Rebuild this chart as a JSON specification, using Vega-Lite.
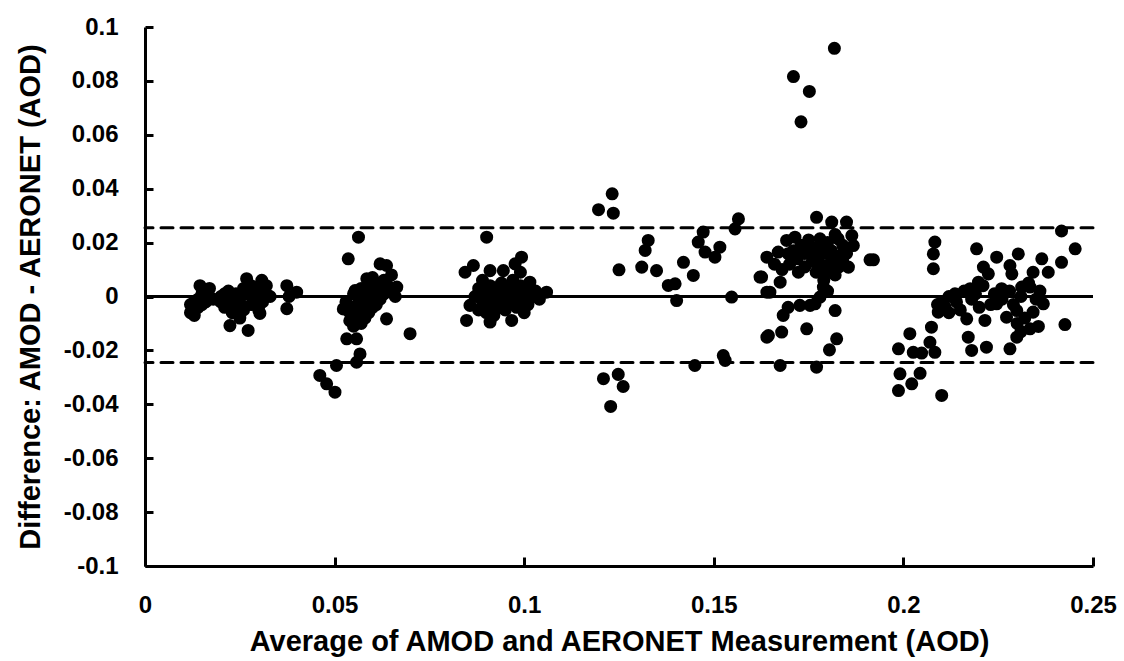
{
  "$schema": "https://vega.github.io/schema/vega-lite/v6.json",
  "width": 948,
  "height": 539,
  "autosize": {"type": "none"},
  "padding": {"left": 145, "top": 27, "right": 31, "bottom": 95},
  "background": "white",
  "config": {
    "view": {"stroke": null},
    "font": "Liberation Sans",
    "axis": {
      "domainColor": "black",
      "domainWidth": 3,
      "ticks": false,
      "grid": true,
      "gridColor": "black",
      "gridWidth": 3,
      "gridOpacity": 1,
      "labelFont": "Liberation Sans",
      "labelFontWeight": "bold",
      "labelFontSize": 24,
      "labelColor": "black",
      "titleFont": "Liberation Sans",
      "titleFontWeight": "bold",
      "titleFontSize": 29,
      "titleColor": "black"
    }
  },
  "datasets": {
    "pts": [
      {"avg":0.012,"diff":-0.003},{"avg":0.012,"diff":-0.006},{"avg":0.0125,"diff":-0.005},{"avg":0.013,"diff":-0.002},{"avg":0.013,"diff":-0.007},{"avg":0.014,"diff":-0.004},{"avg":0.014,"diff":-0.001},{"avg":0.015,"diff":0.001},{"avg":0.015,"diff":-0.003},{"avg":0.0145,"diff":0.004},{"avg":0.016,"diff":0.002},{"avg":0.016,"diff":-0.002},{"avg":0.017,"diff":0.0},{"avg":0.017,"diff":0.003},{"avg":0.018,"diff":-0.001},{"avg":0.020,"diff":-0.002},{"avg":0.020,"diff":0.0},{"avg":0.021,"diff":-0.004},{"avg":0.021,"diff":0.001},{"avg":0.022,"diff":0.002},{"avg":0.022,"diff":-0.003},{"avg":0.0224,"diff":-0.0108},{"avg":0.023,"diff":-0.006},{"avg":0.023,"diff":0.0},{"avg":0.024,"diff":0.001},{"avg":0.024,"diff":-0.004},{"avg":0.025,"diff":-0.008},{"avg":0.025,"diff":-0.002},{"avg":0.026,"diff":0.003},{"avg":0.026,"diff":-0.005},{"avg":0.0268,"diff":0.0066},{"avg":0.027,"diff":0.001},{"avg":0.0272,"diff":-0.0126},{"avg":0.028,"diff":-0.003},{"avg":0.028,"diff":0.004},{"avg":0.029,"diff":-0.001},{"avg":0.029,"diff":0.002},{"avg":0.030,"diff":-0.005},{"avg":0.0303,"diff":-0.0063},{"avg":0.0308,"diff":0.006},{"avg":0.031,"diff":0.003},{"avg":0.031,"diff":-0.002},{"avg":0.032,"diff":0.001},{"avg":0.032,"diff":0.004},{"avg":0.033,"diff":0.0},{"avg":0.0374,"diff":0.004},{"avg":0.0374,"diff":-0.0045},{"avg":0.040,"diff":0.0016},{"avg":0.038,"diff":0.0},
      {"avg":0.0461,"diff":-0.0293},{"avg":0.0479,"diff":-0.0324},{"avg":0.0501,"diff":-0.0355},{"avg":0.0505,"diff":-0.0256},{"avg":0.0558,"diff":-0.0244},{"avg":0.0567,"diff":-0.0213},{"avg":0.0532,"diff":-0.0157},{"avg":0.0558,"diff":-0.0157},{"avg":0.0699,"diff":-0.0138},{"avg":0.0637,"diff":-0.0083},{"avg":0.0563,"diff":0.022},{"avg":0.0536,"diff":0.014},{"avg":0.062,"diff":0.0121},{"avg":0.0637,"diff":0.0115},{"avg":0.0585,"diff":0.0066},{"avg":0.0664,"diff":0.0035},{"avg":0.0554,"diff":0.0022},{"avg":0.0523,"diff":-0.0046},
      {"avg":0.053,"diff":-0.002},{"avg":0.054,"diff":-0.006},{"avg":0.054,"diff":-0.009},{"avg":0.055,"diff":-0.004},{"avg":0.055,"diff":-0.011},{"avg":0.056,"diff":0.0},{"avg":0.056,"diff":-0.007},{"avg":0.057,"diff":0.003},{"avg":0.057,"diff":-0.003},{"avg":0.057,"diff":-0.010},{"avg":0.058,"diff":0.001},{"avg":0.058,"diff":-0.005},{"avg":0.058,"diff":-0.008},{"avg":0.059,"diff":0.004},{"avg":0.059,"diff":-0.002},{"avg":0.059,"diff":-0.006},{"avg":0.060,"diff":0.002},{"avg":0.060,"diff":-0.004},{"avg":0.060,"diff":0.007},{"avg":0.061,"diff":0.0},{"avg":0.061,"diff":-0.003},{"avg":0.061,"diff":0.005},{"avg":0.062,"diff":0.003},{"avg":0.062,"diff":-0.001},{"avg":0.063,"diff":0.006},{"avg":0.063,"diff":0.001},{"avg":0.064,"diff":0.004},{"avg":0.065,"diff":0.002},{"avg":0.065,"diff":0.008},{"avg":0.066,"diff":0.0},{"avg":0.055,"diff":0.001},
      {"avg":0.0901,"diff":0.022},{"avg":0.0993,"diff":0.0146},{"avg":0.0976,"diff":0.0121},{"avg":0.0866,"diff":0.0115},{"avg":0.0844,"diff":0.009},{"avg":0.091,"diff":0.0096},{"avg":0.0945,"diff":0.0096},{"avg":0.1059,"diff":0.0016},{"avg":0.0848,"diff":-0.0089},{"avg":0.091,"diff":-0.0095},{"avg":0.0967,"diff":-0.0089},{"avg":0.1015,"diff":0.0053},{"avg":0.0857,"diff":-0.0033},
      {"avg":0.087,"diff":0.0},{"avg":0.088,"diff":-0.005},{"avg":0.088,"diff":0.003},{"avg":0.089,"diff":-0.002},{"avg":0.089,"diff":0.006},{"avg":0.090,"diff":0.001},{"avg":0.090,"diff":-0.006},{"avg":0.091,"diff":-0.003},{"avg":0.091,"diff":0.004},{"avg":0.092,"diff":0.0},{"avg":0.092,"diff":-0.007},{"avg":0.093,"diff":0.002},{"avg":0.093,"diff":-0.004},{"avg":0.094,"diff":0.005},{"avg":0.094,"diff":-0.001},{"avg":0.095,"diff":0.001},{"avg":0.095,"diff":-0.005},{"avg":0.096,"diff":0.003},{"avg":0.096,"diff":-0.002},{"avg":0.097,"diff":0.006},{"avg":0.097,"diff":0.0},{"avg":0.098,"diff":-0.004},{"avg":0.098,"diff":0.002},{"avg":0.099,"diff":0.004},{"avg":0.099,"diff":-0.001},{"avg":0.100,"diff":0.001},{"avg":0.100,"diff":-0.006},{"avg":0.101,"diff":0.003},{"avg":0.101,"diff":-0.003},{"avg":0.102,"diff":0.0},{"avg":0.103,"diff":0.002},{"avg":0.104,"diff":-0.001},{"avg":0.099,"diff":0.009},
      {"avg":0.1232,"diff":0.0381},{"avg":0.1196,"diff":0.0322},{"avg":0.1235,"diff":0.0309},{"avg":0.1565,"diff":0.0288},{"avg":0.1556,"diff":0.0251},{"avg":0.1327,"diff":0.0208},{"avg":0.1319,"diff":0.0171},{"avg":0.1472,"diff":0.0239},{"avg":0.1459,"diff":0.0202},{"avg":0.1477,"diff":0.0165},{"avg":0.1516,"diff":0.0183},{"avg":0.1503,"diff":0.0146},{"avg":0.125,"diff":0.0099},{"avg":0.131,"diff":0.0109},{"avg":0.1349,"diff":0.0096},{"avg":0.142,"diff":0.0127},{"avg":0.1446,"diff":0.0078},{"avg":0.138,"diff":0.0041},{"avg":0.1398,"diff":0.0047},{"avg":0.1402,"diff":-0.0015},{"avg":0.1547,"diff":-0.0002},{"avg":0.164,"diff":0.0146},{"avg":0.1626,"diff":0.0072},{"avg":0.164,"diff":0.0016},{"avg":0.164,"diff":-0.0151},{"avg":0.145,"diff":-0.0256},{"avg":0.1525,"diff":-0.0219},{"avg":0.153,"diff":-0.0237},{"avg":0.1209,"diff":-0.0305},{"avg":0.1248,"diff":-0.0289},{"avg":0.1261,"diff":-0.0334},{"avg":0.1228,"diff":-0.0408},
      {"avg":0.1818,"diff":0.0921},{"avg":0.171,"diff":0.0816},{"avg":0.1752,"diff":0.0761},{"avg":0.173,"diff":0.0648},{"avg":0.1771,"diff":0.0294},{"avg":0.1811,"diff":0.0276},{"avg":0.185,"diff":0.0276},{"avg":0.1864,"diff":0.0226},{"avg":0.1868,"diff":0.0189},{"avg":0.1714,"diff":0.022},{"avg":0.1692,"diff":0.0208},{"avg":0.178,"diff":0.0214},{"avg":0.1828,"diff":0.0214},{"avg":0.167,"diff":0.0165},{"avg":0.1696,"diff":0.0159},{"avg":0.1912,"diff":0.0136},{"avg":0.1855,"diff":0.0109},{"avg":0.1723,"diff":0.009},{"avg":0.1622,"diff":0.0072},{"avg":0.1675,"diff":0.0053},{"avg":0.1648,"diff":0.0016},{"avg":0.1789,"diff":0.0035},{"avg":0.178,"diff":-0.0002},{"avg":0.1767,"diff":-0.0027},{"avg":0.1696,"diff":-0.004},{"avg":0.1727,"diff":-0.0033},{"avg":0.1754,"diff":-0.0033},{"avg":0.1683,"diff":-0.007},{"avg":0.182,"diff":-0.0052},{"avg":0.1644,"diff":-0.0145},{"avg":0.1679,"diff":-0.0132},{"avg":0.1745,"diff":-0.012},{"avg":0.1824,"diff":-0.0157},{"avg":0.1805,"diff":-0.0198},{"avg":0.1675,"diff":-0.0256},{"avg":0.1771,"diff":-0.0262},
      {"avg":0.170,"diff":0.012},{"avg":0.171,"diff":0.017},{"avg":0.172,"diff":0.014},{"avg":0.173,"diff":0.019},{"avg":0.174,"diff":0.011},{"avg":0.174,"diff":0.016},{"avg":0.175,"diff":0.021},{"avg":0.176,"diff":0.013},{"avg":0.176,"diff":0.018},{"avg":0.177,"diff":0.009},{"avg":0.177,"diff":0.015},{"avg":0.178,"diff":0.012},{"avg":0.178,"diff":0.018},{"avg":0.179,"diff":0.006},{"avg":0.179,"diff":0.016},{"avg":0.180,"diff":0.010},{"avg":0.180,"diff":0.020},{"avg":0.181,"diff":0.013},{"avg":0.181,"diff":0.017},{"avg":0.182,"diff":0.008},{"avg":0.182,"diff":0.023},{"avg":0.183,"diff":0.015},{"avg":0.183,"diff":0.011},{"avg":0.184,"diff":0.019},{"avg":0.184,"diff":0.013},{"avg":0.185,"diff":0.016},{"avg":0.168,"diff":0.010},{"avg":0.166,"diff":0.012},{"avg":0.180,"diff":0.002},{"avg":0.179,"diff":0.008},
      {"avg":0.2083,"diff":0.0202},{"avg":0.2079,"diff":0.0158},{"avg":0.2079,"diff":0.0103},{"avg":0.1921,"diff":0.0136},{"avg":0.2193,"diff":0.0177},{"avg":0.2246,"diff":0.0146},{"avg":0.2303,"diff":0.0158},{"avg":0.2365,"diff":0.014},{"avg":0.2417,"diff":0.0243},{"avg":0.2453,"diff":0.0177},{"avg":0.2417,"diff":0.0127},{"avg":0.2382,"diff":0.009},{"avg":0.2342,"diff":0.009},{"avg":0.2211,"diff":0.0109},{"avg":0.2224,"diff":0.0084},{"avg":0.2281,"diff":0.0115},{"avg":0.2286,"diff":0.0084},{"avg":0.2198,"diff":0.0053},{"avg":0.2176,"diff":0.0029},{"avg":0.2136,"diff":0.001},{"avg":0.2101,"diff":-0.0021},{"avg":0.2092,"diff":-0.0058},{"avg":0.2259,"diff":0.0029},{"avg":0.2312,"diff":0.0035},{"avg":0.2334,"diff":0.0035},{"avg":0.2246,"diff":-0.0027},{"avg":0.2272,"diff":-0.0077},{"avg":0.2299,"diff":-0.0052},{"avg":0.2369,"diff":-0.0027},{"avg":0.2342,"diff":-0.0058},{"avg":0.2167,"diff":-0.0083},{"avg":0.2215,"diff":-0.0089},{"avg":0.2426,"diff":-0.0104},{"avg":0.2356,"diff":-0.0111},{"avg":0.2334,"diff":-0.012},{"avg":0.2171,"diff":-0.0151},{"avg":0.218,"diff":-0.02},{"avg":0.2219,"diff":-0.0188},{"avg":0.2299,"diff":-0.0151},{"avg":0.2281,"diff":-0.0194},{"avg":0.2074,"diff":-0.0114},{"avg":0.207,"diff":-0.017},{"avg":0.2083,"diff":-0.0207},{"avg":0.2017,"diff":-0.0138},{"avg":0.1987,"diff":-0.0194},{"avg":0.2026,"diff":-0.0207},{"avg":0.2048,"diff":-0.021},{"avg":0.1991,"diff":-0.0287},{"avg":0.2044,"diff":-0.0285},{"avg":0.2022,"diff":-0.0324},{"avg":0.1987,"diff":-0.0349},{"avg":0.2101,"diff":-0.0367},
      {"avg":0.211,"diff":-0.004},{"avg":0.212,"diff":0.0},{"avg":0.214,"diff":-0.002},{"avg":0.215,"diff":-0.005},{"avg":0.216,"diff":0.002},{"avg":0.218,"diff":-0.001},{"avg":0.219,"diff":0.001},{"avg":0.220,"diff":-0.004},{"avg":0.221,"diff":0.004},{"avg":0.223,"diff":-0.003},{"avg":0.224,"diff":0.001},{"avg":0.226,"diff":-0.001},{"avg":0.228,"diff":0.002},{"avg":0.229,"diff":-0.003},{"avg":0.231,"diff":0.0},{"avg":0.232,"diff":-0.008},{"avg":0.233,"diff":0.005},{"avg":0.235,"diff":-0.001},{"avg":0.236,"diff":0.002},{"avg":0.230,"diff":-0.010},{"avg":0.231,"diff":-0.013},{"avg":0.212,"diff":-0.006},{"avg":0.209,"diff":-0.003}
    ],
    "lines": [
      {"level": 0.0, "kind": "mean"},
      {"level": 0.0255, "kind": "limit"},
      {"level": -0.0245, "kind": "limit"}
    ]
  },
  "layer": [
    {
      "data": {"name": "lines"},
      "transform": [{"filter": "datum.kind === 'mean'"}],
      "mark": {"type": "rule", "color": "black", "strokeWidth": 3},
      "encoding": {
        "y": {"field": "level", "type": "quantitative", "scale": {"domain": [-0.1, 0.1]}}
      }
    },
    {
      "data": {"name": "lines"},
      "transform": [{"filter": "datum.kind === 'limit'"}],
      "mark": {"type": "rule", "color": "black", "strokeWidth": 3, "strokeDash": [12, 8], "strokeCap": "round"},
      "encoding": {
        "y": {"field": "level", "type": "quantitative"}
      }
    },
    {
      "data": {"name": "pts"},
      "mark": {"type": "circle", "color": "black", "opacity": 1, "size": 170},
      "encoding": {
        "x": {
          "field": "avg", "type": "quantitative",
          "scale": {"domain": [0, 0.25], "nice": false, "zero": false},
          "axis": {"values": [0, 0.05, 0.1, 0.15, 0.2, 0.25], "gridDash": [0, 530, 9, 3000], "labelExpr": "toString(datum.value)", "labelPadding": 27, "titlePadding": 10, "title": "Average of AMOD and AERONET Measurement (AOD)", "labelFlush": false}
        },
        "y": {
          "field": "diff", "type": "quantitative",
          "scale": {"domain": [-0.1, 0.1], "nice": false},
          "axis": {"values": [-0.1, -0.08, -0.06, -0.04, -0.02, 0, 0.02, 0.04, 0.06, 0.08, 0.1], "gridDash": [8, 3000], "labelExpr": "toString(datum.value)", "labelPadding": 27, "titlePadding": 18, "title": "Difference: AMOD - AERONET (AOD)", "labelFlush": false}
        }
      }
    }
  ]
}
